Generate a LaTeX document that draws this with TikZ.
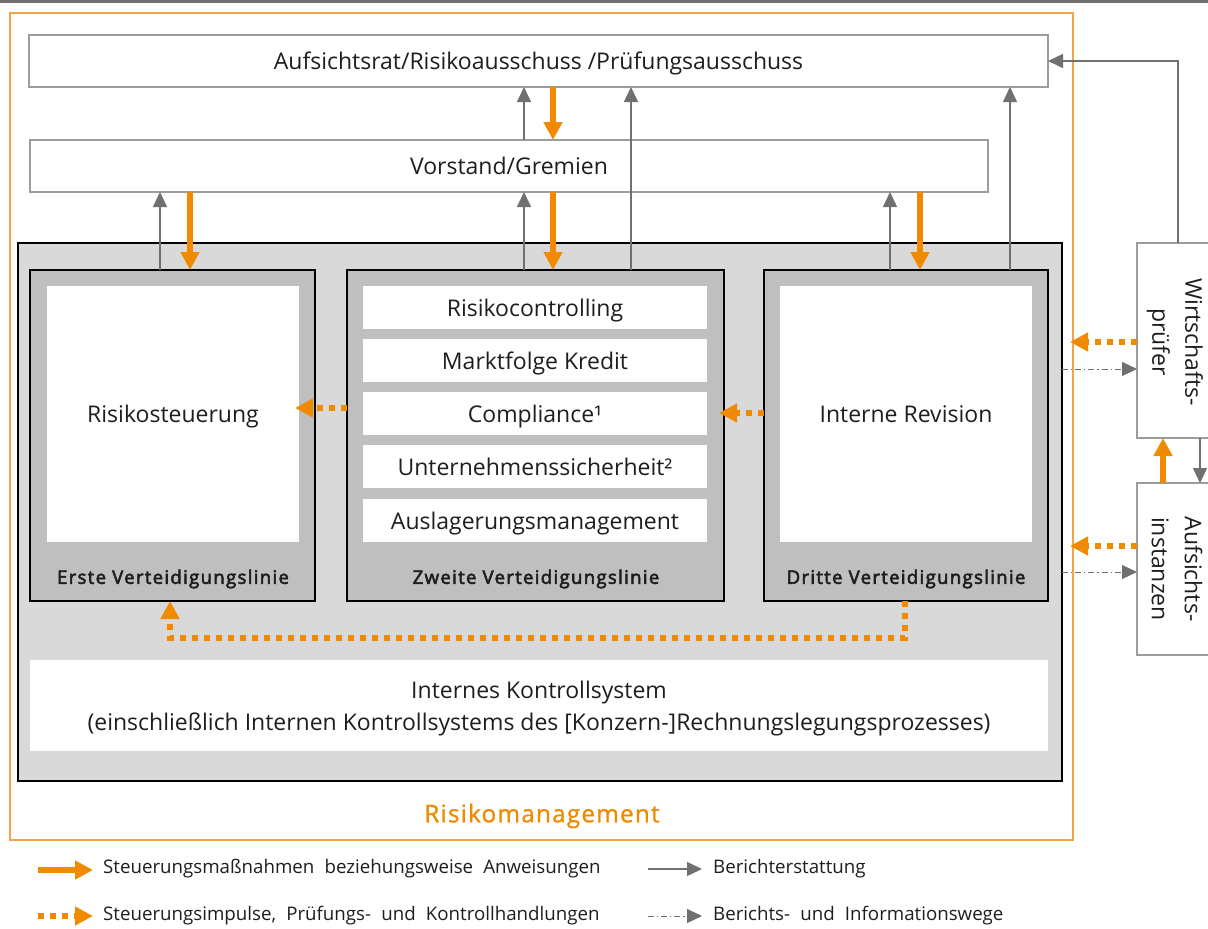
\documentclass[tikz,border=0pt]{standalone}
\usepackage{fontspec}
\setmainfont{Open Sans}
\newfontfamily\lblfont[LetterSpace=7, FakeBold=3]{Open Sans}
\newfontfamily\rmfont[LetterSpace=5, FakeBold=1]{Open Sans}
\newfontfamily\legfont[WordSpace=2.1]{Open Sans}
\usetikzlibrary{arrows.meta}
\definecolor{org}{HTML}{F08A00}
\definecolor{orgframe}{HTML}{F4A24C}
\definecolor{conn}{HTML}{707070}
\definecolor{boxline}{HTML}{9C9C9C}
\definecolor{bglight}{HTML}{D9D9D9}
\definecolor{bgmid}{HTML}{BFBFBF}
\definecolor{txt}{HTML}{1E1E1E}
\newcommand\mainsz{\fontsize{23}{27}\selectfont}
\newcommand\lblsz{\lblfont\fontsize{18.6}{20}\selectfont}
\newcommand\legsz{\legfont\fontsize{18.7}{22}\selectfont}
\begin{document}
\begin{tikzpicture}[x=1pt,y=-1pt,
  wbox/.style={draw=boxline, line width=1.3pt, fill=white, inner sep=0pt, outer sep=0pt, anchor=north west, font=\mainsz, text=txt, align=center, text depth=0pt},
  ibox/.style={fill=white, draw=none, inner sep=0pt, outer sep=0pt, anchor=north west, font=\mainsz, text=txt, align=center, text depth=0pt},
  colbox/.style={draw=black, line width=1.3pt, fill=bgmid, inner sep=0pt, outer sep=0pt, anchor=north west},
  collabel/.style={font=\lblsz, text=txt, inner sep=0pt},
  oarrow/.style={draw=org, line width=5.5pt, -{Triangle[width=18pt,length=18pt]}},
  garrow/.style={draw=conn, line width=1.4pt, -{Triangle[width=14pt,length=15pt]}},
  odot/.style={draw=org, line width=6pt, dash pattern=on 6pt off 6pt, -{Triangle[width=18pt,length=18pt]}},
  gdd/.style={draw=conn, line width=0.9pt, dash pattern=on 6pt off 3pt on 1.2pt off 3pt, -{Triangle[width=14pt,length=15pt]}},
  legtext/.style={font=\legsz, text=txt, anchor=west, inner sep=0pt}
]
\useasboundingbox (0,0) rectangle (1208,929);
\clip (0,0) rectangle (1208,929);
\fill[white] (0,0) rectangle (1208,929);
\fill[conn] (0,0) rectangle (1208,2.8);

% x positions
\coordinate (x160) at (160,0);
\coordinate (x190) at (190,0);
\coordinate (x524) at (524,0);
\coordinate (x553) at (553,0);
\coordinate (x631) at (631,0);
\coordinate (x890) at (890,0);
\coordinate (x920) at (920,0);
\coordinate (x1010) at (1010,0);
\coordinate (x1163) at (1163,0);
\coordinate (x1178) at (1178,0);
\coordinate (x1200) at (1200,0);
\coordinate (x905) at (905,0);
\coordinate (x170) at (170,0);
% y positions
\coordinate (y408) at (0,408);
\coordinate (y413) at (0,413);
\coordinate (y342) at (0,342);
\coordinate (y546) at (0,546);
\coordinate (y369) at (0,369);
\coordinate (y572) at (0,572);

% Orange frame
\node[draw=orgframe, line width=1.1pt, inner sep=0pt, outer sep=0pt, anchor=north west, minimum width=1063pt, minimum height=827pt] (rm) at (10,13) {};
\node[font=\rmfont\fontsize{24.3}{27}\selectfont, text=org, inner sep=0pt] (rmtext) at (542,816) {Risikomanagement};

% Top boxes
\node[wbox, minimum width=1019pt, minimum height=52pt] (ar) at (29,35) {Aufsichtsrat/Risikoausschuss /Prüfungsausschuss};
\node[wbox, minimum width=958pt, minimum height=52pt] (vs) at (30,140) {Vorstand/Gremien};

% Big gray area
\node[draw=black, line width=1.3pt, fill=bglight, inner sep=0pt, outer sep=0pt, anchor=north west, minimum width=1044pt, minimum height=538pt] (big) at (18,243) {};

% Columns
\node[colbox, minimum width=285pt, minimum height=331pt] (erste) at (30,270) {};
\node[colbox, minimum width=377pt, minimum height=331pt] (zweite) at (347,270) {};
\node[colbox, minimum width=284pt, minimum height=331pt] (dritte) at (764,270) {};

\node[ibox, minimum width=252pt, minimum height=256pt] (risk) at (47,286) {Risikosteuerung};
\node[ibox, minimum width=252pt, minimum height=256pt] (rev) at (780,286) {Interne Revision};

\node[ibox, minimum width=344pt, minimum height=43pt] (rc) at (363,286) {Risikocontrolling};
\node[ibox, minimum width=344pt, minimum height=43pt] (mk) at (363,339) {Marktfolge Kredit};
\node[ibox, minimum width=344pt, minimum height=43pt] (comp) at (363,392) {Compliance¹};
\node[ibox, minimum width=344pt, minimum height=43pt] (us) at (363,445) {Unternehmenssicherheit²};
\node[ibox, minimum width=344pt, minimum height=43pt] (am) at (363,499) {Auslagerungsmanagement};

\node[collabel] (l1) at (173,579) {Erste Verteidigungslinie};
\node[collabel] (l2) at (536,579) {Zweite Verteidigungslinie};
\node[collabel] (l3) at (906,579) {Dritte Verteidigungslinie};

\node[ibox, minimum width=1018pt, minimum height=91pt, font=\fontsize{23}{32}\selectfont] (iks) at (30,660) {Internes Kontrollsystem\\(einschließlich Internen Kontrollsystems des [Konzern-]Rechnungslegungsprozesses)};

% Right boxes
\node[draw=boxline, line width=1.3pt, fill=white, inner sep=0pt, outer sep=0pt, anchor=north west, minimum width=110pt, minimum height=195pt] (wp) at (1137,243) {};
\node[draw=boxline, line width=1.3pt, fill=white, inner sep=0pt, outer sep=0pt, anchor=north west, minimum width=110pt, minimum height=172pt] (ai) at (1137,483) {};
\node[rotate=-90, font=\fontsize{23}{33}\selectfont, text=txt, align=center, inner sep=0pt] (wptext) at (1175,342) {Wirtschafts-\\prüfer};
\node[rotate=-90, font=\fontsize{23}{33}\selectfont, text=txt, align=center, inner sep=0pt] (aitext) at (1177,569) {Aufsichts-\\instanzen};

% Gray reporting arrows
\draw[garrow] (erste.north -| x160) -- (vs.south -| x160);
\draw[garrow] (zweite.north -| x524) -- (vs.south -| x524);
\draw[garrow] (vs.north -| x524) -- (ar.south -| x524);
\draw[garrow] (zweite.north -| x631) -- (ar.south -| x631);
\draw[garrow] (dritte.north -| x890) -- (vs.south -| x890);
\draw[garrow] (dritte.north -| x1010) -- (ar.south -| x1010);
\draw[garrow] (wp.north -| x1178) |- (ar.east);
\draw[garrow] (wp.south -| x1200) -- (ai.north -| x1200);

% Orange solid arrows
\draw[oarrow] (ar.south -| x553) -- (vs.north -| x553);
\draw[oarrow] (vs.south -| x553) -- (zweite.north -| x553);
\draw[oarrow] (vs.south -| x190) -- (erste.north -| x190);
\draw[oarrow] (vs.south -| x920) -- (dritte.north -| x920);
\draw[oarrow] (ai.north -| x1163) -- (wp.south -| x1163);

% Orange dotted arrows
\draw[odot, shorten >=-4pt] (zweite.west |- y408) -- (risk.east |- y408);
\draw[odot, shorten >=-5pt] (dritte.west |- y413) -- (zweite.east |- y413);
\coordinate (loopc) at (170,638);
\draw[odot] (dritte.south -| x905) |- (loopc) -- (erste.south -| x170);
\coordinate (wpin) at (1070,342);
\coordinate (aiin) at (1070,546);
\draw[odot] (wp.west |- y342) -- (wpin);
\draw[odot] (ai.west |- y546) -- (aiin);

% Gray dash-dot arrows
\draw[gdd] (big.east |- y369) -- (wp.west |- y369);
\draw[gdd] (big.east |- y572) -- (ai.west |- y572);

% Legend
\coordinate (la1) at (38,870); \coordinate (lb1) at (93,870);
\coordinate (la2) at (38,916); \coordinate (lb2) at (93,916);
\coordinate (la3) at (648,869); \coordinate (lb3) at (702,869);
\coordinate (la4) at (648,916); \coordinate (lb4) at (702,916);
\draw[oarrow] (la1) -- (lb1);
\draw[odot] (la2) -- (lb2);
\draw[garrow] (la3) -- (lb3);
\draw[gdd] (la4) -- (lb4);
\node[legtext] (t1) at (103,869) {Steuerungsmaßnahmen beziehungsweise Anweisungen};
\node[legtext] (t2) at (103,916) {Steuerungsimpulse, Prüfungs- und Kontrollhandlungen};
\node[legtext] (t3) at (713,869) {Berichterstattung};
\node[legtext] (t4) at (713,916) {Berichts- und Informationswege};
\end{tikzpicture}
\end{document}
